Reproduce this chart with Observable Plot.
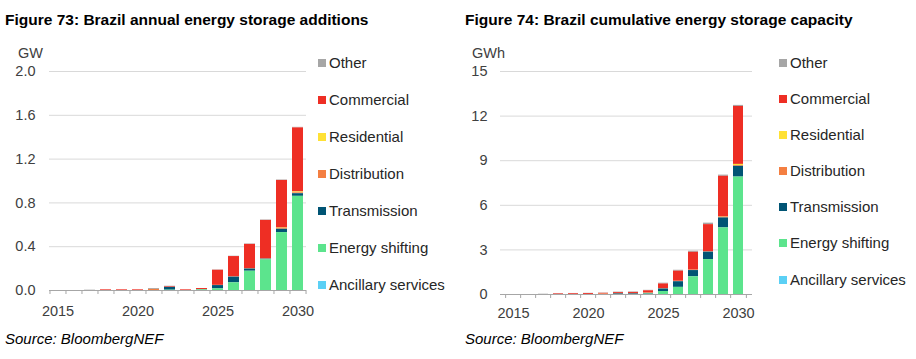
<!DOCTYPE html>
<html>
<head>
<meta charset="utf-8">
<script src="https://cdn.jsdelivr.net/npm/d3@7"></script>
<script src="https://cdn.jsdelivr.net/npm/@observablehq/plot@0.6"></script>
<style>
  html, body { margin: 0; padding: 0; background: #fff; }
  #page { position: relative; width: 916px; height: 359px; overflow: hidden; font-family: "Liberation Sans", Arial, sans-serif; color: #000; }
  .title { position: absolute; font-weight: bold; font-size: 15.5px; white-space: nowrap; }
  .unit { position: absolute; font-size: 14.5px; color: #404040; }
  .source { position: absolute; font-style: italic; font-size: 15px; color: #000; white-space: nowrap; }
  .chart { position: absolute; }
  .legend { position: absolute; font-size: 15px; color: #262626; }
  .legend .row { position: absolute; white-space: nowrap; height: 18px; line-height: 18px; }
  .legend .sw { position: absolute; left: 0; top: 5px; width: 8px; height: 8px; }
  .legend .lb { position: absolute; left: 11px; top: 0; }
</style>
</head>
<body>
<div id="page">
  <div class="title" style="left:5px; top:11px;">Figure 73: Brazil annual energy storage additions</div>
  <div class="title" style="left:465px; top:11px;">Figure 74: Brazil cumulative energy storage capacity</div>
  <div class="unit" style="left:18px; top:45px;">GW</div>
  <div class="unit" style="left:472px; top:45px;">GWh</div>
  <div class="chart" id="left" style="left:0px; top:50px;"></div>
  <div class="chart" id="right" style="left:458px; top:50px;"></div>
  <div class="legend" id="legL" style="left:318px; top:0px;"></div>
  <div class="legend" id="legR" style="left:779px; top:0px;"></div>
  <div class="source" style="left:5px; top:330px;">Source: BloombergNEF</div>
  <div class="source" style="left:465px; top:330px;">Source: BloombergNEF</div>
</div>
<script>
// ---------- data ----------
const years = [2015, 2016, 2017, 2018, 2019, 2020, 2021, 2022, 2023, 2024, 2025, 2026, 2027, 2028, 2029, 2030];
const categories = ["Other", "Commercial", "Residential", "Distribution", "Transmission", "Energy shifting", "Ancillary services"];
const colors = ["#a6a6a6", "#ee2e24", "#ffe135", "#f47f41", "#005474", "#5ce48d", "#5bd0f5"];

// Figure 73: annual additions (GW)
const annualAncillary    = [0, 0, 0, 0, 0, 0, 0, 0, 0, 0, 0, 0, 0, 0, 0, 0];
const annualEnergyShift  = [0, 0, 0, 0, 0, 0, 0, 0.003, 0, 0.006, 0.015, 0.07, 0.176, 0.28, 0.529, 0.86];
const annualTransmission = [0, 0, 0, 0, 0, 0, 0, 0.025, 0, 0.002, 0.03, 0.052, 0.02, 0.006, 0.03, 0.024];
const annualDistribution = [0, 0, 0, 0, 0, 0, 0.01, 0, 0, 0, 0.002, 0.003, 0.005, 0.004, 0.006, 0.008];
const annualResidential  = [0, 0, 0, 0, 0, 0, 0, 0, 0, 0, 0, 0, 0, 0, 0.005, 0.008];
const annualCommercial   = [0, 0, 0, 0.006, 0.006, 0.006, 0, 0.006, 0.006, 0.01, 0.138, 0.185, 0.22, 0.35, 0.435, 0.585];
const annualOther        = [0, 0, 0.003, 0, 0, 0, 0.008, 0.005, 0, 0, 0.003, 0.003, 0.004, 0.004, 0.004, 0.005];
const annualTicks = [0, 0.4, 0.8, 1.2, 1.6, 2.0];

// Figure 74: cumulative capacity (GWh)
const cumAncillary    = [0, 0, 0, 0, 0, 0, 0, 0, 0, 0, 0, 0, 0, 0, 0, 0];
const cumEnergyShift  = [0, 0, 0, 0, 0, 0, 0, 0, 0, 0.03, 0.2, 0.48, 1.19, 2.35, 4.48, 7.9];
const cumTransmission = [0, 0, 0, 0, 0, 0, 0, 0.04, 0.04, 0.04, 0.17, 0.38, 0.42, 0.5, 0.67, 0.72];
const cumDistribution = [0, 0, 0, 0, 0, 0, 0.03, 0.03, 0.03, 0.03, 0.03, 0.03, 0.03, 0.03, 0.04, 0.05];
const cumResidential  = [0, 0, 0, 0, 0, 0, 0, 0, 0, 0, 0, 0, 0, 0, 0.02, 0.08];
const cumCommercial   = [0, 0, 0, 0.04, 0.05, 0.06, 0.05, 0.06, 0.07, 0.15, 0.31, 0.68, 1.2, 1.82, 2.74, 3.9];
const cumOther        = [0, 0, 0.02, 0.02, 0.02, 0.02, 0.02, 0.03, 0.03, 0.03, 0.05, 0.06, 0.07, 0.1, 0.08, 0.07];
const cumTicks = [0, 3, 6, 9, 12, 15];

const xLabelYears = [2015, 2020, 2025, 2030];

// ---------- build tables ----------
function table(series) {
  const rows = [];
  series.forEach((vals, k) => {
    vals.forEach((v, i) => rows.push({year: years[i], category: categories[k], value: v}));
  });
  return rows;
}
const annualRows = table([annualOther, annualCommercial, annualResidential, annualDistribution, annualTransmission, annualEnergyShift, annualAncillary]);
const cumRows = table([cumOther, cumCommercial, cumResidential, cumDistribution, cumTransmission, cumEnergyShift, cumAncillary]);
const stackOrder = categories.slice().reverse(); // bottom: Ancillary ... top: Other

function chart(rows, {width, height, ml, mr, mt, mb, ymax, ticks, fmt, ypad, xpad}) {
  const step = (width - ml - mr) / years.length;
  return Plot.plot({
    width, height,
    marginLeft: ml, marginRight: mr, marginTop: mt, marginBottom: mb,
    style: {fontFamily: "'Liberation Sans', Arial, sans-serif", background: "transparent", overflow: "visible"},
    x: {type: "band", domain: years, paddingInner: 0.33, paddingOuter: 0.165, align: 0.5, axis: null, label: null},
    y: {domain: [0, ymax], axis: null, label: null},
    color: {domain: categories, range: colors},
    marks: [
      Plot.gridY(ticks.filter(d => d > 0), {stroke: "#d9d9d9", strokeOpacity: 1, strokeWidth: 1}),
      Plot.barY(rows, Plot.stackY({x: "year", y: "value", fill: "category", order: stackOrder})),
      Plot.ruleY([0], {stroke: "#a6a6a6", strokeWidth: 1}),
      Plot.axisX({ticks: years, tickSize: 4, tickFormat: () => "", label: null, dx: -step / 2, stroke: "#a6a6a6", strokeOpacity: 1}),
      Plot.axisX({ticks: [years[years.length - 1]], tickSize: 4, tickFormat: () => "", label: null, dx: step / 2, stroke: "#a6a6a6", strokeOpacity: 1}),
      Plot.axisX({ticks: xLabelYears, tickSize: 0, tickPadding: xpad, tickFormat: d => String(d), label: null, fontSize: 14.5, fill: "#404040"}),
      Plot.axisY({ticks, tickSize: 0, tickPadding: ypad, tickFormat: fmt, label: null, fontSize: 14.5, fill: "#404040"})
    ]
  });
}

document.getElementById("left").appendChild(chart(annualRows, {
  width: 312, height: 270, ml: 49, mr: 6, mt: 21, mb: 30, ymax: 2.0,
  ticks: annualTicks, fmt: d3.format(".1f"), ypad: 14, xpad: 15
}));
document.getElementById("right").appendChild(chart(cumRows, {
  width: 300, height: 270, ml: 42, mr: 6, mt: 21, mb: 26, ymax: 15,
  ticks: cumTicks, fmt: d => String(d), ypad: 13, xpad: 13
}));

function legend(id, rowYs) {
  const el = document.getElementById(id);
  categories.forEach((c, i) => {
    const r = document.createElement("div");
    r.className = "row";
    r.style.top = (rowYs[i] - 9) + "px";
    r.innerHTML = `<span class="sw" style="background:${colors[i]}"></span><span class="lb">${c}</span>`;
    el.appendChild(r);
  });
}
legend("legL", [63, 100, 137, 174, 211, 248, 285]);
legend("legR", [62.5, 98.5, 135, 171, 207, 243, 280]);
</script>
</body>
</html>
